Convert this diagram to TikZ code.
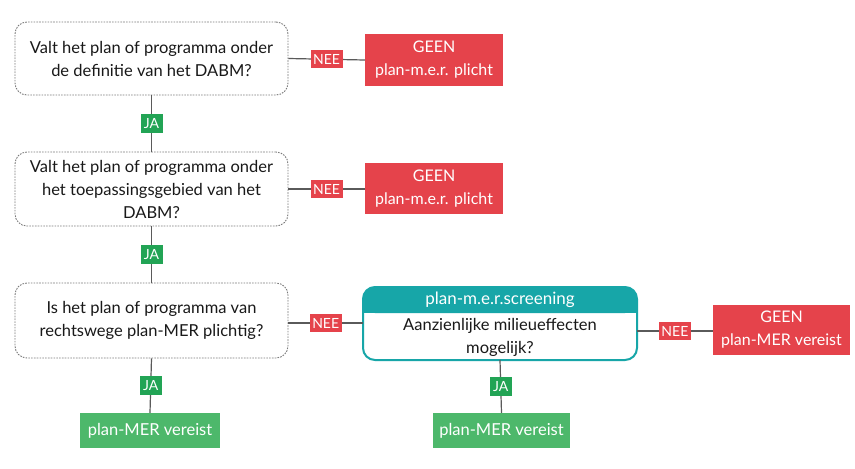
\documentclass[tikz,border=0pt]{standalone}
\usepackage{fontspec}
\setmainfont{Lato}
\definecolor{redbox}{HTML}{E5434B}
\definecolor{greenbox}{HTML}{4DB86B}
\definecolor{greenlab}{HTML}{22A455}
\definecolor{tealbox}{HTML}{17A6A8}
\definecolor{linegray}{HTML}{5A5A5A}
\definecolor{dashgray}{HTML}{7A7A7A}
\begin{document}
\begin{tikzpicture}[x=1pt,y=-1pt,
  question/.style={draw=dashgray,line width=0.9pt,dash pattern=on 1.6pt off 1.2pt,rounded corners=12pt,fill=white,text=black!90,align=center,font=\fontsize{16.5}{23}\selectfont},
  redres/.style={fill=redbox,text=white,align=center,font=\fontsize{16}{23}\selectfont,inner sep=0pt},
  greenres/.style={fill=greenbox,text=white,align=center,font=\fontsize{16.5}{20}\selectfont,inner sep=0pt},
  neelab/.style={fill=redbox,text=white,font=\fontsize{14}{15}\selectfont,inner sep=0.5pt,minimum width=32pt,minimum height=18pt},
  jalab/.style={fill=greenlab,text=white,font=\fontsize{14}{15}\selectfont,inner sep=0.5pt,minimum width=22pt,minimum height=19pt},
  conn/.style={draw=linegray,line width=1.2pt}]
\useasboundingbox (0,0) rectangle (855,469);
\fill[white] (0,0) rectangle (855,469);

% questions
\node[question,minimum width=273pt,minimum height=73pt] (q1) at (151.5,58.5) {Valt het plan of programma onder\\de definitie van het DABM?};
\node[question,minimum width=273pt,minimum height=74pt] (q2) at (151.5,189) {Valt het plan of programma onder\\het toepassingsgebied van het\\DABM?};
\node[question,minimum width=273pt,minimum height=75pt] (q3) at (151.5,320.5) {Is het plan of programma van\\rechtswege plan-MER plichtig?};

% red results
\node[redres,minimum width=138pt,minimum height=52pt] (g1) at (434,60) {GEEN\\plan-m.e.r. plicht};
\node[redres,minimum width=138pt,minimum height=51pt] (g2) at (434,188.5) {GEEN\\plan-m.e.r. plicht};
\node[redres,minimum width=137pt,minimum height=50pt] (g3) at (781.5,330) {GEEN\\plan-MER vereist};

% green results
\node[greenres,minimum width=140pt,minimum height=35pt] (p1) at (150,430.5) {plan-MER vereist};
\node[greenres,minimum width=137pt,minimum height=35pt] (p2) at (501.5,430.5) {plan-MER vereist};

% screening box
\coordinate (sNW) at (363,287);
\coordinate (sSE) at (637,360);
\fill[white,rounded corners=12pt] (sNW) rectangle (sSE);
\fill[tealbox,rounded corners=12pt] (363,313) -- (363,287) -- (637,287) -- (637,313) -- cycle;
\fill[tealbox] (363,300) rectangle (637,313);
\draw[tealbox,line width=2pt,rounded corners=12pt] (sNW) rectangle (sSE);
\node[text=white,font=\fontsize{17}{20}\selectfont] (sh) at (500,300) {plan-m.e.r.screening};
\node[text=black!90,align=center,font=\fontsize{16.5}{23}\selectfont] (sq) at (500,337) {Aanzienlijke milieueffecten\\mogelijk?};
\coordinate (sE) at (637,331);
\coordinate (sW) at (363,323);
\coordinate (sS) at (500,360);

% connectors with labels
\draw[conn] (q1.east) -- (g1.west) node[neelab,midway] (n1) {NEE};
\draw[conn] (q2.east) -- (g2.west |- q2.east) node[neelab,midway] (n2) {NEE};
\draw[conn] (q3.east |- sW) -- (sW) node[neelab,midway] (n3) {NEE};
\draw[conn] (sE) -- (g3.west |- sE) node[neelab,midway] (n4) {NEE};

\draw[conn] (q1.south) -- (q2.north) node[jalab,midway] (j1) {JA};
\draw[conn] (q2.south) -- (q3.north) node[jalab,midway] (j2) {JA};
\draw[conn] (q3.south) -- (p1.north) node[jalab,midway] (j3) {JA};
\draw[conn] (sS) -- (p2.north) node[jalab,midway] (j4) {JA};
\end{tikzpicture}
\end{document}
